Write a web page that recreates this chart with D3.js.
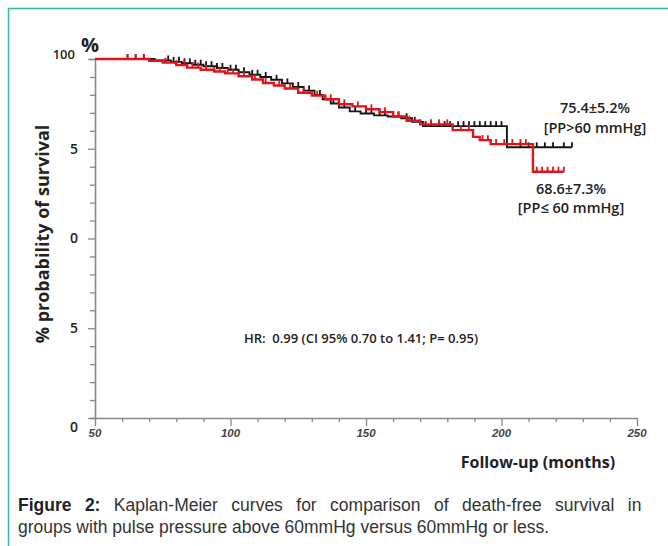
<!DOCTYPE html>
<html>
<head>
<meta charset="utf-8">
<script src="https://cdn.jsdelivr.net/npm/d3@7"></script>
<style>
  body { margin: 0; background: #fff; }
  svg { display: block; }
</style>
</head>
<body>
<svg width="668" height="546"></svg>
<script>
// Kaplan-Meier, PP>60 (black) vs PP<=60 (red)

// step times (months) and survival (%) after each event
var blackTimes = [50, 72, 78, 82, 86, 90, 95, 99, 103, 107, 111, 115, 119, 123, 127, 131, 134, 137, 140, 144, 148, 153, 158, 163, 167, 171, 202];
var blackSurv  = [100, 99.6, 99.2, 98.8, 98.4, 98.0, 97.5, 97.0, 96.3, 95.6, 95.0, 94.2, 93.2, 92.2, 91.2, 90.0, 88.8, 87.6, 86.5, 85.4, 84.8, 84.3, 84.0, 83.5, 82.5, 81.3, 75.4];
var blackEnd = 226;
var blackCensor = [62, 65, 68, 77, 79, 81, 83, 85, 87, 89, 91, 93, 95, 97, 100, 102, 105, 108, 110, 113, 117, 121, 125, 129, 133, 138, 142, 146, 150, 152, 155, 157, 160, 162, 165, 168, 172, 174, 177, 179, 181, 184, 186, 188, 190, 192, 194, 196, 198, 200, 207, 210, 213, 216, 219, 223, 226];

var redTimes = [50, 70, 75, 80, 84, 89, 94, 98, 103, 108, 112, 116, 120, 125, 130, 135, 140, 145, 150, 155, 160, 165, 170, 182, 189.5, 192, 196, 211.6];
var redSurv  = [100, 99.5, 99.0, 98.3, 97.6, 97.0, 96.5, 96.0, 95.2, 94.3, 93.3, 92.6, 91.8, 90.6, 89.8, 88.8, 87.4, 86.8, 86.0, 85.2, 84.0, 82.8, 81.8, 80.2, 78.3, 77.4, 76.3, 68.6];
var redEnd = 223;
var redCensor = [62, 65, 68, 76, 80, 83, 86, 88, 91, 94, 96, 99, 101, 105, 109, 113, 118, 122, 127, 132, 137, 142, 147, 152, 157, 162, 166, 170, 174, 177, 180, 185, 188, 193, 195, 198, 201, 204, 207, 209, 213, 215, 217, 219, 221, 223];

var yTickVals = [0, 25, 50, 75, 100];
var yTickLabels = ["0", "5", "0", "5", "100"];
var xTickVals = [50, 100, 150, 200, 250];

var svg = d3.select("svg");
var chartFont = "'Open Sans', 'Noto Sans', sans-serif";

// frame
svg.append("path")
  .attr("d", "M8.5,546 L8.5,8.5 L668,8.5")
  .attr("fill", "none")
  .attr("stroke", "#2fb8a8")
  .attr("stroke-width", 1.5);

var x = d3.scaleLinear().domain([50, 250]).range([95, 637]);
var y = d3.scaleLinear().domain([0, 100]).range([418, 59]);

// y axis
var yAxis = svg.append("g").attr("transform", "translate(" + x(50) + ",0)");
yAxis.call(d3.axisLeft(y).tickValues(d3.range(0, 101, 5)).tickSize(5).tickFormat(""))
yAxis.selectAll(".tick line").attr("stroke", "#888").attr("stroke-width", 1.3)
  .filter(function(d) { return d % 25 == 0; }).attr("x2", -7);
yAxis.select(".domain").attr("stroke", "#888").attr("stroke-width", 1.6);

svg.append("g").selectAll("text")
  .data(yTickVals)
  .enter().append("text")
  .attr("x", function(d) { return d == 100 ? 75 : 78; })
  .attr("y", function(d) { return y(d); })
  .attr("dy", function(d) { return d == 100 ? "0" : (d == 0 ? "1.0em" : "0.35em"); })
  .attr("text-anchor", "end")
  .attr("font-family", chartFont)
  .attr("font-size", function(d) { return d == 100 ? 13 : 14; })
  .attr("font-weight", 600)
  .attr("fill", "#222")
  .text(function(d, i) { return yTickLabels[i]; });

svg.append("text")
  .attr("x", 81).attr("y", 52)
  .attr("font-family", chartFont)
  .attr("font-size", 20)
  .attr("font-weight", 700)
  .attr("fill", "#222")
  .text("%");

// x axis
var xAxis = svg.append("g").attr("transform", "translate(0," + y(0) + ")");
xAxis.call(d3.axisBottom(x).tickValues(d3.range(50, 251, 10)).tickSize(4).tickSizeOuter(0).tickFormat(""));
xAxis.selectAll(".tick line").attr("stroke", "#888").attr("stroke-width", 1.3)
  .filter(function(d) { return d % 50 == 0; }).attr("y2", 8);
xAxis.select(".domain").attr("stroke", "#888").attr("stroke-width", 1.6);

svg.append("g").selectAll("text")
  .data(xTickVals)
  .enter().append("text")
  .attr("x", function(d) { return x(d); })
  .attr("y", y(0) + 19)
  .attr("text-anchor", "middle")
  .attr("font-family", "'Liberation Sans', Arial, sans-serif")
  .attr("font-size", 11.5)
  .attr("font-style", "italic")
  .attr("font-weight", 700)
  .attr("fill", "#444")
  .text(function(d) { return d; });

// axis titles
svg.append("text")
  .attr("x", 538).attr("y", 468)
  .attr("text-anchor", "middle")
  .attr("font-family", chartFont)
  .attr("font-size", 16)
  .attr("font-weight", 700)
  .attr("fill", "#222")
  .text("Follow-up (months)");

svg.append("text")
  .attr("transform", "translate(49,234) rotate(-90)")
  .attr("text-anchor", "middle")
  .attr("font-family", chartFont)
  .attr("font-size", 18)
  .attr("font-weight", 700)
  .attr("fill", "#222")
  .text("% probability of survival");

// curves
function stepAt(times, surv, t) {
  var i = d3.bisectRight(times, t) - 1;
  return surv[Math.max(i, 0)];
}

function drawGroup(times, surv, end, censor, color, lw) {
  var pts = times.map(function(t, i) { return [t, surv[i]]; });
  pts.push([end, surv[surv.length - 1]]);
  var line = d3.line()
    .x(function(d) { return x(d[0]); })
    .y(function(d) { return y(d[1]); })
    .curve(d3.curveStepAfter);
  svg.append("path")
    .datum(pts)
    .attr("d", line)
    .attr("fill", "none")
    .attr("stroke", color)
    .attr("stroke-width", lw);
  svg.append("g").selectAll("line")
    .data(censor)
    .enter().append("line")
    .attr("x1", function(d) { return x(d); })
    .attr("x2", function(d) { return x(d); })
    .attr("y1", function(d) { return y(stepAt(times, surv, d)); })
    .attr("y2", function(d) { return y(stepAt(times, surv, d)) - 5; })
    .attr("stroke", color)
    .attr("stroke-width", 1.8);
}

drawGroup(blackTimes, blackSurv, blackEnd, blackCensor, "#151515", 1.9);
drawGroup(redTimes, redSurv, redEnd, redCensor, "#e3131b", 2.4);

// annotations
var notes = [
  {t: "75.4±5.2%", x: 595, y: 113, s: 14.5},
  {t: "[PP>60 mmHg]", x: 595, y: 133, s: 14.5},
  {t: "68.6±7.3%", x: 571, y: 194, s: 14.5},
  {t: "[PP≤ 60 mmHg]", x: 571, y: 213, s: 14.5},
  {t: "HR:  0.99 (CI 95% 0.70 to 1.41; P= 0.95)", x: 361, y: 343, s: 13}
];
svg.append("g").selectAll("text")
  .data(notes)
  .enter().append("text")
  .attr("x", function(d) { return d.x; })
  .attr("y", function(d) { return d.y; })
  .attr("text-anchor", "middle")
  .attr("font-family", chartFont)
  .attr("font-size", function(d) { return d.s; })
  .attr("font-weight", 600)
  .attr("fill", "#222")
  .style("white-space", "pre")
  .text(function(d) { return d.t; });

// caption (first line justified via word-spacing)
var capFont = "'Liberation Sans Narrow', 'Arial Narrow', 'Liberation Sans', sans-serif";
var cap1 = svg.append("text")
  .attr("x", 18).attr("y", 511)
  .attr("font-family", capFont)
  .attr("font-size", 17.5)
  .attr("fill", "#333");
cap1.append("tspan").attr("font-weight", 700).attr("fill", "#222").text("Figure 2:");
cap1.append("tspan").text(" Kaplan-Meier curves for comparison of death-free survival in");
var natural = cap1.node().getComputedTextLength();
var spaces = 10;
if (natural < 632) cap1.attr("word-spacing", ((632 - natural) / spaces).toFixed(2));

svg.append("text")
  .attr("x", 18).attr("y", 533)
  .attr("font-family", capFont)
  .attr("font-size", 17.5)
  .attr("fill", "#333")
  .text("groups with pulse pressure above 60mmHg versus 60mmHg or less.");
</script>
</body>
</html>
